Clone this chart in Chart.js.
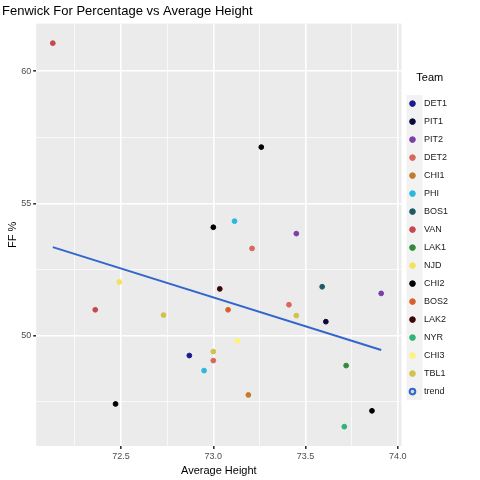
<!DOCTYPE html>
<html>
<head>
<meta charset="utf-8">
<script src="https://cdn.jsdelivr.net/npm/chart.js@4"></script>
<style>
body { margin: 0; background: #fff; }
#wrap { width: 480px; height: 480px; }
</style>
</head>
<body>
<div id="wrap"><canvas id="ffChart" width="480" height="480"></canvas></div>
<script>
// teams, colours and (height, FF%) points
const teams = ["DET1", "PIT1", "PIT2", "DET2", "CHI1", "PHI", "BOS1", "VAN", "LAK1", "NJD", "CHI2", "BOS2", "LAK2", "NYR", "CHI3", "TBL1"];
const teamColors = ["#1a1a8c", "#0a0a3a", "#7b3fa8", "#d9675a", "#c47a2c", "#2bb8dc", "#1d5a66", "#c8464e", "#2f8a3c", "#f2e45a", "#000000", "#d8602e", "#3a0808", "#2db47a", "#fff27a", "#d2c24a"];
const heights = [[72.87], [73.61], [73.45, 73.91], [73.21, 73.0, 73.41], [73.19], [73.115, 72.95], [73.59], [72.13, 72.36], [73.72], [72.49], [73.26, 73.0, 72.47, 73.86], [73.08], [73.035], [73.71], [73.13], [72.73, 73.45, 73.0]];
const ffPct = [[49.25], [50.53], [53.86, 51.6], [53.3, 49.06, 51.17], [47.76], [54.33, 48.68], [51.85], [61.06, 50.98], [48.87], [52.03], [57.13, 54.1, 47.42, 47.16], [50.98], [51.77], [46.56], [49.8], [50.78, 50.76, 49.4]];
const trendX = [72.13, 73.91];
const trendY = [53.35, 49.46];
const xTicks = [72.25, 72.5, 72.75, 73.0, 73.25, 73.5, 73.75, 74.0];
const yTicks = [47.5, 50, 52.5, 55, 57.5, 60];

const datasets = teams.map((t, i) => ({
    label: t,
    data: heights[i].map((x, j) => ({ x: x, y: ffPct[i][j] })),
    backgroundColor: teamColors[i],
    borderColor: teamColors[i],
    pointRadius: 2.4,
    pointHoverRadius: 2.4
}));
datasets.push({
    type: "line",
    label: "trend",
    data: trendX.map((x, i) => ({ x: x, y: trendY[i] })),
    borderColor: "#3366cc",
    borderWidth: 2,
    pointRadius: 0,
    fill: false
});

const panelBg = {
    id: "panelBg",
    beforeDraw(chart) {
        const a = chart.chartArea, c = chart.ctx;
        c.save();
        c.fillStyle = "#ebebeb";
        c.fillRect(a.left, a.top, a.right - a.left, a.bottom - a.top);
        // legend key background
        const lg = chart.legend;
        if (lg && lg.legendHitBoxes.length) {
            const first = lg.legendHitBoxes[0], last = lg.legendHitBoxes[lg.legendHitBoxes.length - 1];
            c.fillStyle = "#f2f2f2";
            c.fillRect(first.left - 4, first.top - 4, 16, last.top + last.height - first.top + 8);
        }
        c.restore();
    }
};

function isMajor(v, step) {
    return Math.abs(v / step - Math.round(v / step)) < 1e-6;
}

new Chart(document.getElementById("ffChart").getContext("2d"), {
    type: "scatter",
    data: { datasets: datasets },
    options: {
        responsive: false,
        animation: false,
        layout: { padding: { left: 2, right: 22, top: 0, bottom: 2 } },
        plugins: {
            title: {
                display: true, text: "Fenwick For Percentage vs Average Height", align: "start",
                color: "#000", font: { family: "Liberation Sans", size: 13, weight: "normal" },
                padding: { top: 4, bottom: 4 }
            },
            legend: {
                position: "right",
                align: "center",
                title: { display: true, text: "Team", color: "#000", font: { family: "Liberation Sans", size: 11 }, padding: { top: 0, bottom: 4 } },
                labels: {
                    filter: item => item.text !== "trend",
                    usePointStyle: true, pointStyle: "circle", boxWidth: 4, boxHeight: 4,
                    color: "#1a1a1a", font: { family: "Liberation Sans", size: 9 }, padding: 9,
                    generateLabels: ch => Chart.defaults.plugins.legend.labels.generateLabels(ch).map(l => Object.assign(l, { text: "  " + l.text }))
                }
            },
            tooltip: { enabled: false }
        },
        scales: {
            x: {
                type: "linear", min: 72.04, max: 74.02,
                afterBuildTicks: s => { s.ticks = xTicks.map(v => ({ value: v })); },
                ticks: { color: "#4d4d4d", font: { family: "Liberation Sans", size: 9 },
                    callback: v => isMajor(v, 0.5) ? v.toFixed(1) : "", maxRotation: 0, autoSkip: false, padding: 2 },
                grid: { color: "#ffffff", lineWidth: c => isMajor(c.tick.value, 0.5) ? 1.6 : 0.7,
                    tickLength: 3, tickColor: c => isMajor(c.tick.value, 0.5) ? "#333" : "rgba(0,0,0,0)" },
                border: { display: false },
                title: { display: true, text: "Average Height", color: "#000", font: { family: "Liberation Sans", size: 11 }, padding: { top: 1, bottom: 0 } }
            },
            y: {
                type: "linear", min: 45.83, max: 61.8,
                afterBuildTicks: s => { s.ticks = yTicks.map(v => ({ value: v })); },
                ticks: { color: "#4d4d4d", font: { family: "Liberation Sans", size: 9 },
                    callback: v => isMajor(v, 5) ? String(v) : "", autoSkip: false, padding: 2 },
                grid: { color: "#ffffff", lineWidth: c => isMajor(c.tick.value, 5) ? 1.6 : 0.7,
                    tickLength: 3, tickColor: c => isMajor(c.tick.value, 5) ? "#333" : "rgba(0,0,0,0)" },
                border: { display: false },
                title: { display: true, text: "FF %", color: "#000", font: { family: "Liberation Sans", size: 11 }, padding: { bottom: 0 } }
            }
        }
    },
    plugins: [panelBg]
});
</script>
</body>
</html>
